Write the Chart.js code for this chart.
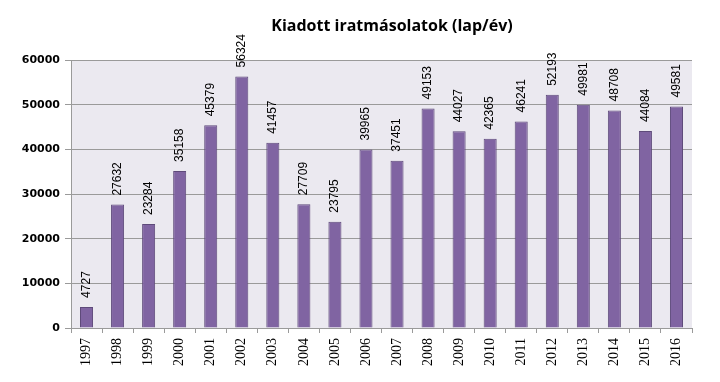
<!DOCTYPE html>
<html>
<head>
<meta charset="utf-8">
<script src="https://cdn.jsdelivr.net/npm/chart.js@4"></script>
<style>
  html, body { margin: 0; padding: 0; background: #fff; }
  #wrap { width: 720px; height: 382px; }
</style>
</head>
<body>
<div id="wrap"><canvas id="myChart" width="720" height="382"></canvas></div>
<script>
// chart data
const titleText = 'Kiadott iratmásolatok (lap/év)';
const years = ['1997', '1998', '1999', '2000', '2001', '2002', '2003', '2004', '2005', '2006',
               '2007', '2008', '2009', '2010', '2011', '2012', '2013', '2014', '2015', '2016'];
const copies = [4727, 27632, 23284, 35158, 45379, 56324, 41457, 27709, 23795, 39965,
                37451, 49153, 44027, 42365, 46241, 52193, 49981, 48708, 44084, 49581];
const yTicks = [0, 10000, 20000, 30000, 40000, 50000, 60000];

// light plot background + title
const decor = {
    id: 'decor',
    beforeDraw(chart) {
        const a = chart.chartArea;
        const ctx = chart.ctx;
        ctx.save();
        ctx.fillStyle = '#EBE9F0';
        ctx.fillRect(a.left, a.top, a.right - a.left, a.bottom - a.top);
        ctx.fillStyle = '#000';
        ctx.font = 'bold 16px "Open Sans", sans-serif';
        ctx.textAlign = 'center';
        ctx.textBaseline = 'middle';
        ctx.fillText(titleText, 392, 26);
        ctx.restore();
    }
};

// vertical value labels above each bar
const valueLabels = {
    id: 'valueLabels',
    afterDatasetsDraw(chart) {
        const ctx = chart.ctx;
        const meta = chart.getDatasetMeta(0);
        ctx.save();
        ctx.font = '12px "Liberation Sans", Arial, sans-serif';
        ctx.fillStyle = '#000';
        ctx.textAlign = 'left';
        ctx.textBaseline = 'middle';
        meta.data.forEach((bar, i) => {
            ctx.save();
            ctx.translate(bar.x, bar.y - 9);
            ctx.rotate(-Math.PI / 2);
            ctx.fillText(String(copies[i]), 0, 0);
            ctx.restore();
        });
        ctx.restore();
    }
};

new Chart(document.getElementById('myChart').getContext('2d'), {
    type: 'bar',
    data: {
        labels: years,
        datasets: [{
            data: copies,
            backgroundColor: '#8064A2',
            borderColor: '#5E4A7A',
            borderWidth: 1,
            categoryPercentage: 1,
            barPercentage: 0.42
        }]
    },
    options: {
        responsive: false,
        animation: false,
        layout: { padding: { left: 0, right: 28, top: 60, bottom: 0 } },
        plugins: {
            legend: { display: false },
            tooltip: { enabled: false },
            title: { display: false }
        },
        scales: {
            x: {
                afterFit(scale) { scale.height = 54; },
                grid: { offset: true, drawOnChartArea: false, color: '#9A9A9A', tickLength: 5 },
                border: { color: '#9A9A9A' },
                ticks: {
                    color: '#000',
                    maxRotation: 90,
                    minRotation: 90,
                    font: { family: '"Liberation Serif", serif', size: 14 },
                    padding: 5
                }
            },
            y: {
                min: 0,
                max: 60000,
                afterFit(scale) { scale.width = 71; },
                afterBuildTicks(scale) { scale.ticks = yTicks.map(v => ({ value: v })); },
                grid: { color: '#9A9A9A', tickLength: 6 },
                border: { color: '#9A9A9A' },
                ticks: {
                    color: '#000',
                    padding: 5,
                    callback: v => String(v),
                    font: { family: '"DejaVu Sans", sans-serif', size: 11, weight: 'bold' }
                }
            }
        }
    },
    plugins: [decor, valueLabels]
});
</script>
</body>
</html>
